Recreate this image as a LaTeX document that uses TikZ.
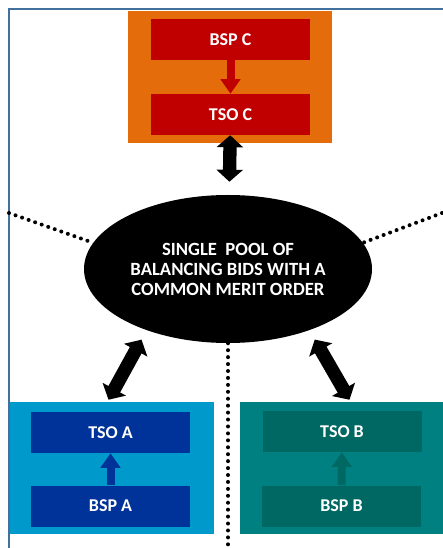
\documentclass[tikz,border=0pt]{standalone}
\usepackage{fontspec}
\setmainfont{Carlito}
\usetikzlibrary{shapes.geometric,arrows.meta,calc}
\newcommand{\pix}{0.75pt}
\definecolor{frameblue}{HTML}{41719C}
\definecolor{zoneC}{HTML}{E46C0A}
\definecolor{partyC}{HTML}{C00000}
\definecolor{zoneA}{HTML}{0099CC}
\definecolor{partyA}{HTML}{003399}
\definecolor{zoneB}{HTML}{008080}
\definecolor{partyB}{HTML}{006863}
\tikzset{frame line/.style={draw=frameblue, line width=1.5pt}}
\tikzset{zone/.style={rectangle, minimum width=204*\pix, minimum height=132*\pix, inner sep=0pt}}
\tikzset{party node/.style={rectangle, minimum width=159*\pix, minimum height=41*\pix,
    inner sep=0pt, text=white, font=\bfseries\fontsize{13.5}{15}\selectfont}}
\tikzset{inner arrow/.style={line width=6pt, -{Triangle[width=14.5pt, length=11pt]}}}
\tikzset{pool/.style={ellipse, fill=black, minimum width=288*\pix, minimum height=148*\pix,
    inner sep=0pt, text=white, align=center, font=\bfseries\fontsize{14}{15}\selectfont}}
\tikzset{trade arrow/.style={line width=10pt,
    {Triangle[width=19.5pt, length=9pt]}-{Triangle[width=19.5pt, length=9pt]}}}
\tikzset{pool link/.style={line width=3pt, line cap=round, dash pattern=on 0pt off 5.2pt}}

\begin{document}
\begin{tikzpicture}[x=\pix, y=-\pix]
  \useasboundingbox (0,0) rectangle (442,548);
  \draw [frame line] (9,570) |- (470,9);

  % area C on top
  \node [zone, fill=zoneC]        (zoneC) at (230,77)      {};
  \node [party node, fill=partyC] (bspC)  at (230.5,39.5)  {BSP C};
  \node [party node, fill=partyC] (tsoC)  at (230.5,114.5) {TSO C};
  \draw [inner arrow, partyC] (bspC) -- (tsoC);

  % area A, bottom left
  \node [zone, fill=zoneA]        (zoneA) at (111.5,468)   {};
  \node [party node, fill=partyA] (tsoA)  at (110.5,432.5) {TSO A};
  \node [party node, fill=partyA] (bspA)  at (110.5,506)   {BSP A};
  \draw [inner arrow, partyA] (bspA) -- (tsoA);

  % area B, bottom right
  \node [zone, fill=zoneB]        (zoneB) at (341.5,468)   {};
  \node [party node, fill=partyB] (tsoB)  at (342,431.5)   {TSO B};
  \node [party node, fill=partyB] (bspB)  at (341.5,506)   {BSP B};
  \draw [inner arrow, partyB] (bspB) -- (tsoB);

  % common merit order
  \node [pool] (pool) at (228,269)
    {SINGLE~ POOL OF\\BALANCING BIDS WITH A\\COMMON MERIT ORDER};

  % borders between the areas
  \coordinate (westend)  at (9,213);
  \coordinate (eastend)  at (442,213);
  \coordinate (southend) at (228,548);
  \draw [pool link] (westend) -- (pool.169);
  \draw [pool link] (eastend) -- (pool.11);
  \draw [pool link] (pool.south) -- (southend);

  \draw [trade arrow, shorten >=9.75pt] (tsoC) -- (pool);
  \draw [trade arrow, shorten <=8pt] (pool.217) -- ($(zoneA.north)+(-3,-2)$);
  \draw [trade arrow, shorten <=8pt] (pool.323) -- ($(zoneB.north)+(8,-2)$);
\end{tikzpicture}
\end{document}
